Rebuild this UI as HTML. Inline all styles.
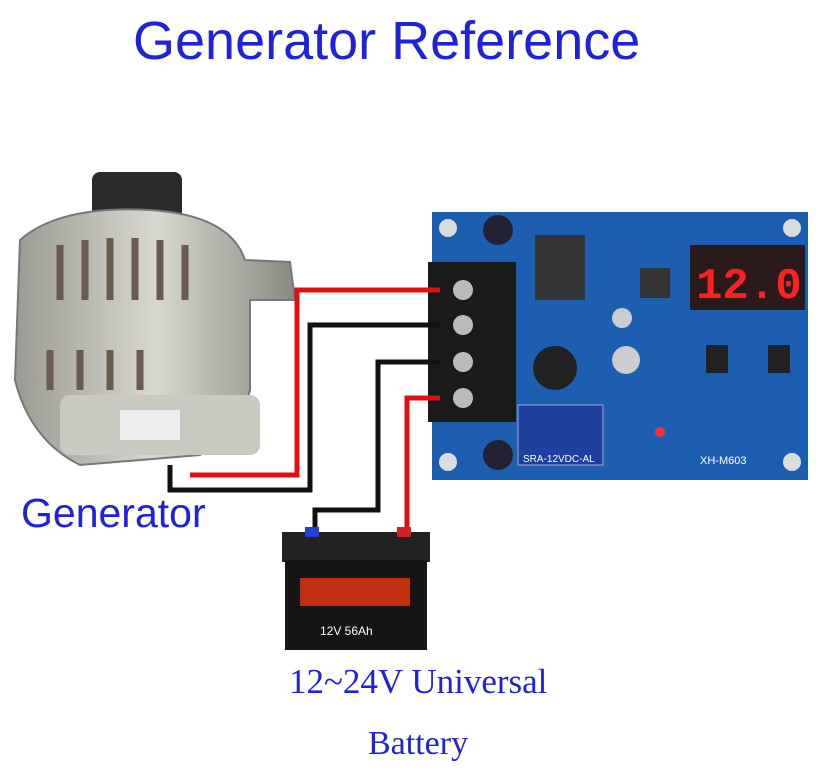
<!DOCTYPE html>
<html><head><meta charset="utf-8"><style>
html,body{margin:0;padding:0;background:#fff;}
body{width:816px;height:768px;position:relative;overflow:hidden;font-family:"Liberation Sans",sans-serif;}
.t{position:absolute;color:#1f22d8;white-space:nowrap;}
</style></head><body>
<div class="t" style="left:133px;top:10px;font-size:54px;">Generator Reference</div>
<div class="t" style="left:21px;top:490px;font-size:41px;">Generator</div>
<div class="t" style="left:289px;top:662px;font-size:35px;font-family:'Liberation Serif',serif;">12~24V Universal</div>
<div class="t" style="left:368px;top:725px;font-size:34px;font-family:'Liberation Serif',serif;">Battery</div>

<svg width="816" height="768" style="position:absolute;left:0;top:0">
<defs>
<linearGradient id="g1" x1="0" y1="0" x2="1" y2="0"><stop offset="0" stop-color="#9a9a92"/><stop offset=".5" stop-color="#d8d8d0"/><stop offset="1" stop-color="#8a8a82"/></linearGradient>
</defs>
<rect x="92" y="172" width="90" height="50" rx="8" fill="#2a2a2a"/>
<path d="M20 240 Q60 205 150 210 Q230 215 245 260 L290 262 L295 300 L250 300 L250 390 Q240 430 200 455 L80 465 Q30 440 15 380 Z" fill="url(#g1)" stroke="#777" stroke-width="2"/>
<g stroke="#6a5a50" stroke-width="7">
<line x1="60" y1="245" x2="60" y2="300"/><line x1="85" y1="240" x2="85" y2="300"/><line x1="110" y1="238" x2="110" y2="300"/><line x1="135" y1="238" x2="135" y2="300"/><line x1="160" y1="240" x2="160" y2="300"/><line x1="185" y1="245" x2="185" y2="300"/>
<line x1="50" y1="350" x2="50" y2="390"/><line x1="80" y1="350" x2="80" y2="390"/><line x1="110" y1="350" x2="110" y2="390"/><line x1="140" y1="350" x2="140" y2="390"/>
</g>
<rect x="60" y="395" width="200" height="60" rx="10" fill="#c9c9c2"/>
<rect x="120" y="410" width="60" height="30" fill="#eee"/>
<rect x="432" y="212" width="376" height="268" fill="#1c5fb0"/>
<circle cx="448" cy="228" r="9" fill="#ddd"/><circle cx="792" cy="228" r="9" fill="#ddd"/><circle cx="448" cy="462" r="9" fill="#ddd"/><circle cx="792" cy="462" r="9" fill="#ddd"/>
<rect x="690" y="245" width="115" height="65" fill="#2a1a1a"/>
<text x="696" y="298" font-family="Liberation Mono,monospace" font-size="44" font-weight="bold" fill="#ff2020">12.0</text>
<rect x="535" y="235" width="50" height="65" fill="#333"/>
<circle cx="555" cy="368" r="22" fill="#222"/>
<circle cx="498" cy="230" r="15" fill="#223"/><circle cx="498" cy="455" r="15" fill="#223"/>
<circle cx="626" cy="360" r="14" fill="#ccc"/><circle cx="622" cy="318" r="10" fill="#ccc"/>
<rect x="518" y="405" width="85" height="60" fill="#1f3f9f" stroke="#aac" />
<text x="523" y="462" font-size="10" fill="#fff">SRA-12VDC-AL</text>
<rect x="640" y="268" width="30" height="30" fill="#333"/>
<rect x="706" y="345" width="22" height="28" fill="#222"/><rect x="768" y="345" width="22" height="28" fill="#222"/>
<circle cx="660" cy="432" r="5" fill="#ff3030"/>
<text x="700" y="464" font-size="11" fill="#fff">XH-M603</text>
<rect x="428" y="262" width="88" height="160" fill="#1a1a1a"/>
<g fill="#bbb"><circle cx="463" cy="290" r="10"/><circle cx="463" cy="325" r="10"/><circle cx="463" cy="362" r="10"/><circle cx="463" cy="398" r="10"/></g>
<g fill="none" stroke-width="5">
<polyline points="440,290 297,290 297,475 190,475" stroke="#e01010"/>
<polyline points="440,325 310,325 310,490 170,490 170,465" stroke="#111"/>
<polyline points="440,362 378,362 378,510 315,510 315,540" stroke="#111"/>
<polyline points="440,398 407,398 407,535" stroke="#e01010"/>
</g>
<rect x="282" y="532" width="148" height="30" fill="#222"/>
<rect x="285" y="560" width="142" height="90" fill="#151515"/>
<rect x="300" y="578" width="110" height="28" fill="#c03010"/>
<text x="320" y="635" font-size="12" fill="#fff">12V 56Ah</text>
<rect x="305" y="527" width="14" height="10" fill="#2040d0"/><rect x="397" y="527" width="14" height="10" fill="#d02020"/>
</svg>
</body></html>
